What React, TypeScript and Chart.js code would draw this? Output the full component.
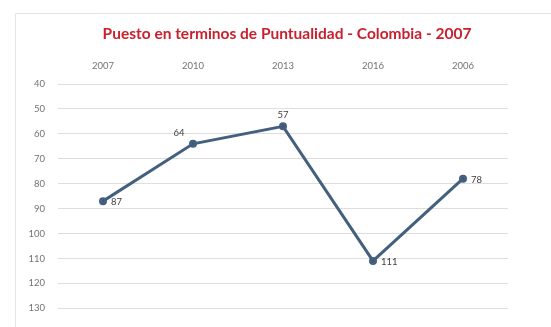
import React, { useEffect, useRef } from "react";
import { Chart, registerables } from "chart.js";

Chart.register(...registerables);

const title = "Puesto en terminos de Puntualidad - Colombia - 2007";
const categories = ["2007", "2010", "2013", "2016", "2006"];
const positions = [87, 64, 57, 111, 78];
const yTicks = [40, 50, 60, 70, 80, 90, 100, 110, 120, 130];
const labelPlacement = ["right", "above-left", "above", "right", "right"];

export default function App() {
  const ref = useRef<HTMLCanvasElement | null>(null);

  useEffect(() => {
    document.body.style.margin = "0";
    const canvas = ref.current;
    if (!canvas) return;

    const decor = {
      id: "decor",
      beforeDraw(chart: any) {
        const ctx = chart.ctx;
        ctx.save();
        ctx.fillStyle = "#ffffff";
        ctx.fillRect(0, 0, chart.width, chart.height);
        ctx.strokeStyle = "#e4e4e4";
        ctx.lineWidth = 1;
        ctx.beginPath();
        ctx.moveTo(15.5, 327);
        ctx.lineTo(15.5, 13.5);
        ctx.lineTo(551, 13.5);
        ctx.stroke();
        ctx.restore();
      },
      afterDraw(chart: any) {
        const ctx = chart.ctx;
        ctx.save();
        ctx.fillStyle = "#c8202c";
        ctx.font = "bold 15.5px Lato, 'Open Sans', sans-serif";
        ctx.textAlign = "center";
        ctx.textBaseline = "middle";
        ctx.fillText(title, 287, 34);

        const meta = chart.getDatasetMeta(0);
        ctx.fillStyle = "#404040";
        ctx.font = "9.5px Lato, 'Open Sans', sans-serif";
        meta.data.forEach((pt: any, i: number) => {
          const txt = String(positions[i]);
          const p = labelPlacement[i];
          if (p === "right") {
            ctx.textAlign = "left";
            ctx.textBaseline = "middle";
            ctx.fillText(txt, pt.x + 8, pt.y + 1);
          } else if (p === "above") {
            ctx.textAlign = "center";
            ctx.textBaseline = "bottom";
            ctx.fillText(txt, pt.x, pt.y - 7);
          } else {
            ctx.textAlign = "center";
            ctx.textBaseline = "bottom";
            ctx.fillText(txt, pt.x - 14, pt.y - 6);
          }
        });
        ctx.restore();
      },
    };

    const chart = new Chart(canvas, {
      type: "line",
      data: {
        labels: categories,
        datasets: [
          {
            data: positions,
            borderColor: "#44607f",
            backgroundColor: "#3a5474",
            borderWidth: 3,
            pointRadius: 2.5,
            pointHoverRadius: 2.5,
            pointStyle: "circle",
            tension: 0,
          },
        ],
      },
      options: {
        responsive: false,
        animation: false,
        devicePixelRatio: 1,
        layout: { padding: { left: 0, right: 43, top: 0, bottom: 9 } },
        plugins: {
          legend: { display: false },
          title: { display: false },
          tooltip: { enabled: false },
        },
        scales: {
          x: {
            position: "top",
            offset: true,
            grid: { display: false, drawTicks: false },
            border: { display: false },
            ticks: {
              color: "#737373",
              font: { size: 9.5, family: "Lato, 'Open Sans', sans-serif" },
              padding: 12,
              maxRotation: 0,
            },
            afterFit(scale: any) {
              scale.height = 84;
            },
          },
          y: {
            reverse: true,
            min: yTicks[0],
            max: yTicks[yTicks.length - 1],
            afterBuildTicks(scale: any) {
              scale.ticks = yTicks.map((v) => ({ value: v }));
            },
            grid: { color: "#dedede", lineWidth: 1, drawTicks: false },
            border: { display: false },
            ticks: {
              color: "#737373",
              font: { size: 9.5, family: "Lato, 'Open Sans', sans-serif" },
              padding: 13,
            },
            afterFit(scale: any) {
              scale.width = 58;
            },
          },
        },
      },
      plugins: [decor],
    });

    return () => chart.destroy();
  }, []);

  return (
    <div style={{ position: "absolute", left: 0, top: 0, width: 551, height: 327 }}>
      <canvas ref={ref} width={551} height={327} style={{ width: 551, height: 327, display: "block" }} />
    </div>
  );
}
